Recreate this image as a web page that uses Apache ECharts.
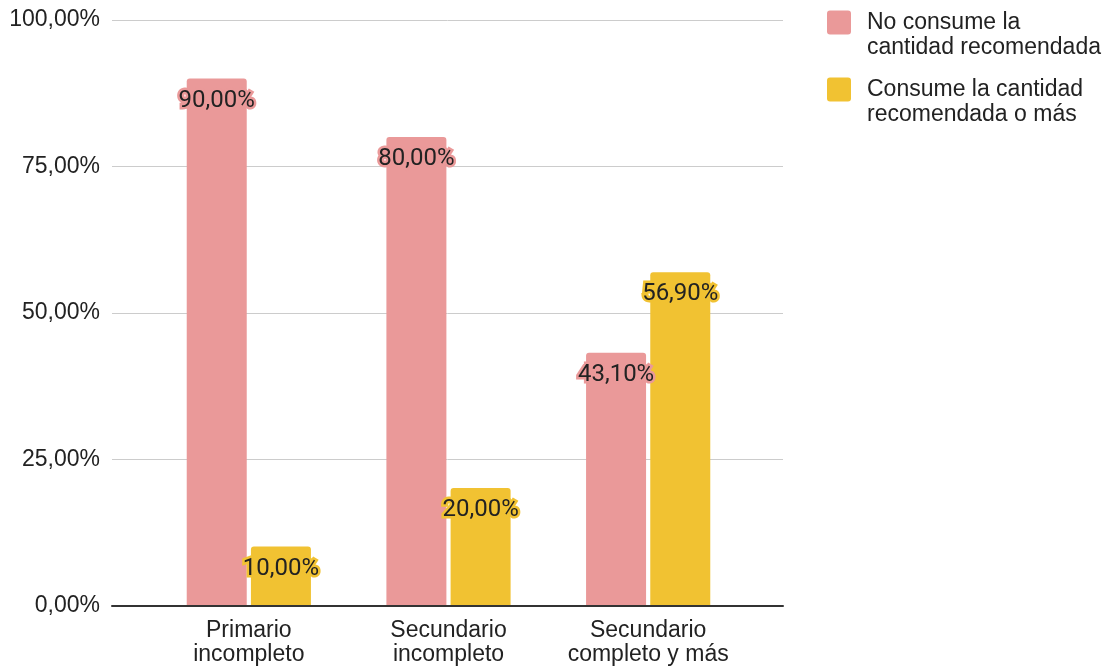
<!DOCTYPE html>
<html>
<head>
<meta charset="utf-8">
<script src="https://cdn.jsdelivr.net/npm/echarts@6/dist/echarts.min.js"></script>
<style>
  html, body { margin: 0; padding: 0; background: #fff; }
  #main { width: 1112px; height: 667px; }
</style>
</head>
<body>
<div id="main"></div>
<script>
var categorias = ['Primario\nincompleto', 'Secundario\nincompleto', 'Secundario\ncompleto y más'];
var noConsume = [90.0, 80.0, 43.1];
var consume = [10.0, 20.0, 56.9];
var nombres = ['No consume la\ncantidad recomendada', 'Consume la cantidad\nrecomendada o más'];
var colores = ['#ea9999', '#f1c232'];

function pct(v) {
    return v.toFixed(2).replace('.', ',') + '%';
}

function etiqueta(color) {
    return {
        show: true,
        position: 'insideTop',
        distance: 10,
        fontFamily: 'Roboto',
        fontSize: 24,
        color: '#222',
        textBorderColor: color,
        textBorderWidth: 5,
        formatter: function (p) { return pct(p.value); }
    };
}

// cuadrado redondeado para la leyenda
var icono = 'path://M3,0H21Q24,0,24,3V21Q24,24,21,24H3Q0,24,0,21V3Q0,0,3,0Z';

function leyenda(nombre, top) {
    return {
        orient: 'vertical',
        left: 827,
        top: top,
        padding: 0,
        itemWidth: 46,
        itemHeight: 24,
        icon: icono,
        symbolKeepAspect: true,
        formatter: function (n) { return '\n' + n; },
        textStyle: {
            fontFamily: 'Liberation Sans',
            fontSize: 23,
            lineHeight: 25,
            color: '#222'
        },
        data: [nombre]
    };
}

var myChart = echarts.init(document.getElementById('main'));
var option = {
    animation: false,
    textStyle: { fontFamily: 'Liberation Sans' },
    legend: [leyenda(nombres[0], -15), leyenda(nombres[1], 52)],
    grid: [
        // lineas de fondo y eje (ancho completo)
        { left: 112, right: 329, top: 20, bottom: 61 },
        // barras
        { left: 149, right: 364, top: 20, bottom: 61 }
    ],
    xAxis: [{
        type: 'value',
        gridIndex: 0,
        min: 0,
        max: 1,
        axisLabel: { show: false },
        axisTick: { show: false },
        splitLine: { show: false },
        axisLine: { show: true, lineStyle: { color: '#333', width: 2 } }
    }, {
        type: 'category',
        gridIndex: 1,
        data: categorias,
        axisLine: { show: false },
        axisTick: { show: false },
        axisLabel: {
            interval: 0,
            hideOverlap: false,
            margin: 14,
            fontSize: 23,
            lineHeight: 24,
            color: '#222',
            fontFamily: 'Liberation Sans'
        }
    }],
    yAxis: [{
        type: 'value',
        gridIndex: 0,
        min: 0,
        max: 100,
        interval: 25,
        axisLine: { show: false },
        axisTick: { show: false },
        axisLabel: {
            margin: 12,
            fontSize: 23,
            color: '#222',
            fontFamily: 'Liberation Sans',
            formatter: function (v) { return pct(v); }
        },
        splitLine: { lineStyle: { color: '#cccccc', width: 1 } }
    }, {
        type: 'value',
        gridIndex: 1,
        min: 0,
        max: 100,
        interval: 25,
        axisLine: { show: false },
        axisTick: { show: false },
        axisLabel: { show: false },
        splitLine: { show: false }
    }],
    series: [{
        name: nombres[0],
        type: 'bar',
        xAxisIndex: 1,
        yAxisIndex: 1,
        barWidth: 60,
        barGap: '7%',
        itemStyle: { color: colores[0], borderRadius: [3, 3, 0, 0] },
        label: etiqueta(colores[0]),
        data: noConsume
    }, {
        name: nombres[1],
        type: 'bar',
        xAxisIndex: 1,
        yAxisIndex: 1,
        barWidth: 60,
        barGap: '7%',
        itemStyle: { color: colores[1], borderRadius: [3, 3, 0, 0] },
        label: etiqueta(colores[1]),
        data: consume
    }]
};
myChart.setOption(option);
</script>
</body>
</html>
